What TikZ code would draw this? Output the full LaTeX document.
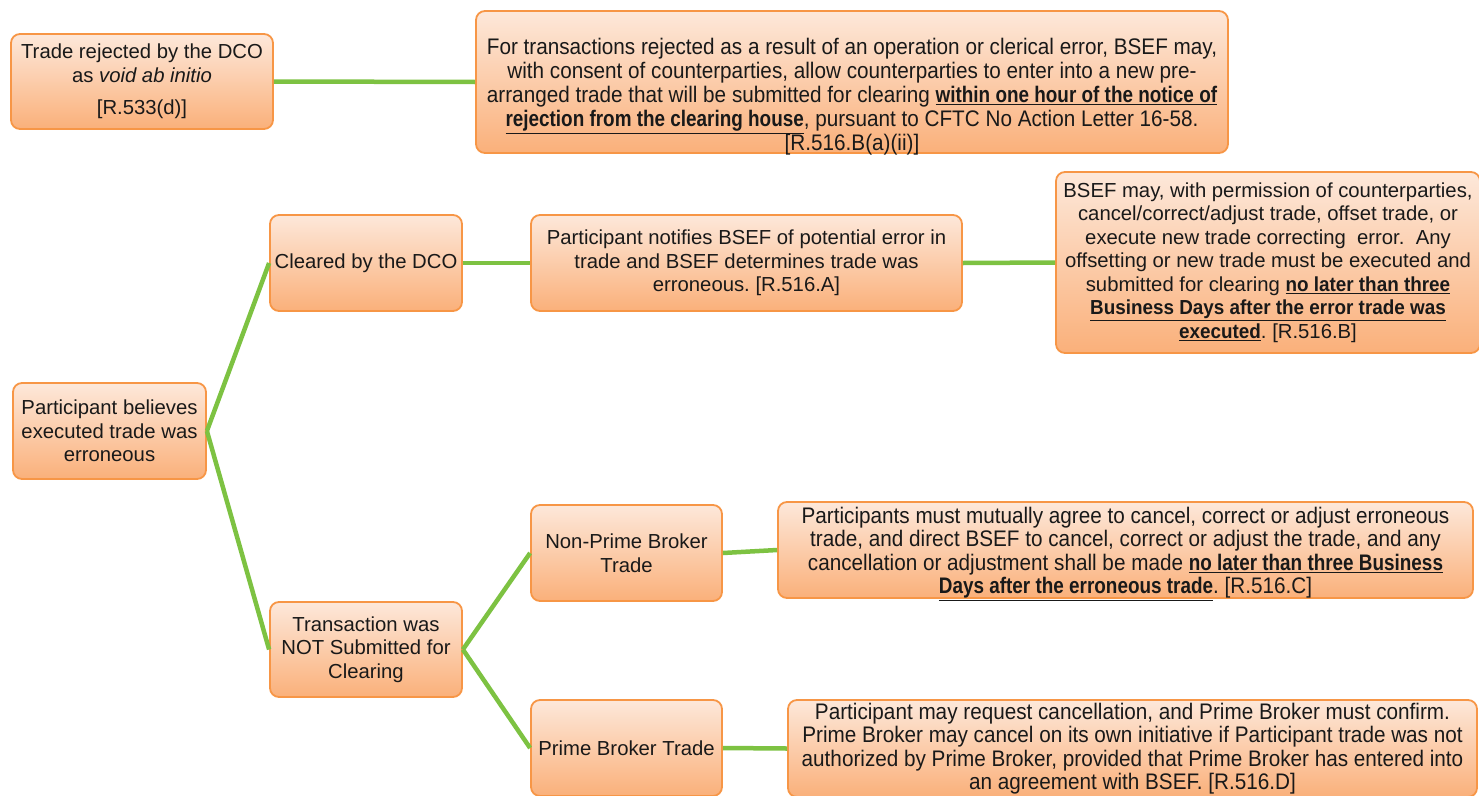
\documentclass[tikz,border=0pt]{standalone}
\usepackage{fontspec}
\setmainfont{Liberation Sans}[BoldFeatures={FakeStretch=0.93}]
\newfontfamily\narrowfont{Liberation Sans}[FakeStretch=0.92, BoldFeatures={FakeStretch=0.84}]
\usetikzlibrary{positioning}
\definecolor{boxline}{HTML}{F79646}
\definecolor{boxtop}{HTML}{FDE8DA}
\definecolor{boxbottom}{HTML}{FAB07A}
\definecolor{linkgreen}{HTML}{7DC242}
\newcommand{\hilite}[1]{\underline{\bfseries #1}}
\frenchspacing

\begin{document}
\begin{tikzpicture}[x=1pt,y=-1pt,
  stepbox/.style={draw=boxline, line width=1.8pt, rounded corners=9pt,
    top color=boxtop, bottom color=boxbottom, align=center, inner sep=0pt,
    text=black!90, font=\fontsize{20.3}{23.5}\selectfont},
  notebox/.style={stepbox, font=\narrowfont\fontsize{22.5}{23.5}\selectfont},
  link/.style={draw=linkgreen, line width=4.5pt}]
\useasboundingbox (0,0) rectangle (1479,795);

% rejected by the clearing house
\node[stepbox, minimum width=262pt, minimum height=95pt] (voided) at (142,81.5)
  {Trade rejected by the DCO\\ as \textit{void ab initio}\\[9pt] [R.533(d)]};
\node[notebox, minimum width=752pt, minimum height=142pt] (newtrade) at (852,82)
  {\raisebox{-20pt}[0pt][0pt]{\parbox{750pt}{\centering\baselineskip=24pt
  For transactions rejected as a result of an operation or clerical error, BSEF may,\\
  with consent of counterparties, allow counterparties to enter into a new pre-\\
  arranged trade that will be submitted for clearing \hilite{within one hour of the notice of}\\
  \hilite{rejection from the clearing house}, pursuant to CFTC No Action Letter 16-58.\\
  \relax[R.516.B(a)(ii)]}}};

% erroneous trade tree
\node[stepbox, minimum width=193pt, minimum height=96pt] (belief) at (109.5,431)
  {Participant believes\\ executed trade was\\ erroneous};
\node[stepbox, minimum width=192pt, minimum height=96pt] (cleared) at (366,263)
  {Cleared by the DCO};
\node[stepbox, minimum width=431pt, minimum height=96pt] (notify) at (746.5,263)
  {Participant notifies BSEF of potential error in\\ trade and BSEF determines trade was\\ erroneous. [R.516.A]};
\node[stepbox, minimum width=424pt, minimum height=181pt] (correct) at (1268,262.5)
  {BSEF may, with permission of counterparties,\\
  cancel/correct/adjust trade, offset trade, or\\
  execute new trade correcting\ \ error.\ \ Any\\
  offsetting or new trade must be executed and\\
  submitted for clearing \hilite{no later than three}\\
  \hilite{Business Days after the error trade was}\\
  \hilite{executed}. [R.516.B]};
\node[stepbox, minimum width=192pt, minimum height=95pt] (notsub) at (366,649.5)
  {Transaction was\\ NOT Submitted for\\ Clearing};
\node[stepbox, minimum width=191pt, minimum height=96pt] (nonprime) at (626.5,553)
  {Non-Prime Broker\\ Trade};
\node[stepbox, minimum width=191pt, minimum height=96pt] (prime) at (626.5,748)
  {Prime Broker Trade};
\node[notebox, minimum width=695pt, minimum height=96pt] (mutual) at (1125.5,550)
  {\raisebox{-9pt}[0pt][0pt]{\parbox{690pt}{\centering
  Participants must mutually agree to cancel, correct or adjust erroneous\\
  trade, and direct BSEF to cancel, correct or adjust the trade, and any\\
  cancellation or adjustment shall be made \hilite{no later than three Business}\\
  \hilite{Days after the erroneous trade}. [R.516.C]}}};
\node[notebox, minimum width=689pt, minimum height=97pt] (request) at (1132.5,748.5)
  {Participant may request cancellation, and Prime Broker must confirm.\\
  Prime Broker may cancel on its own initiative if Participant trade was not\\
  authorized by Prime Broker, provided that Prime Broker has entered into\\
  an agreement with BSEF. [R.516.D]};

% connectors
\draw[link] (voided.east) -- (newtrade.west);
\draw[link] (belief.east) -- (cleared.west);
\draw[link] (belief.east) -- (notsub.west);
\draw[link] (cleared.east) -- (notify.west);
\draw[link] (notify.east) -- (correct.west);
\draw[link] (notsub.east) -- (nonprime.west);
\draw[link] (notsub.east) -- (prime.west);
\draw[link] (nonprime.east) -- (mutual.west);
\draw[link] (prime.east) -- (request.west);
\end{tikzpicture}
\end{document}
